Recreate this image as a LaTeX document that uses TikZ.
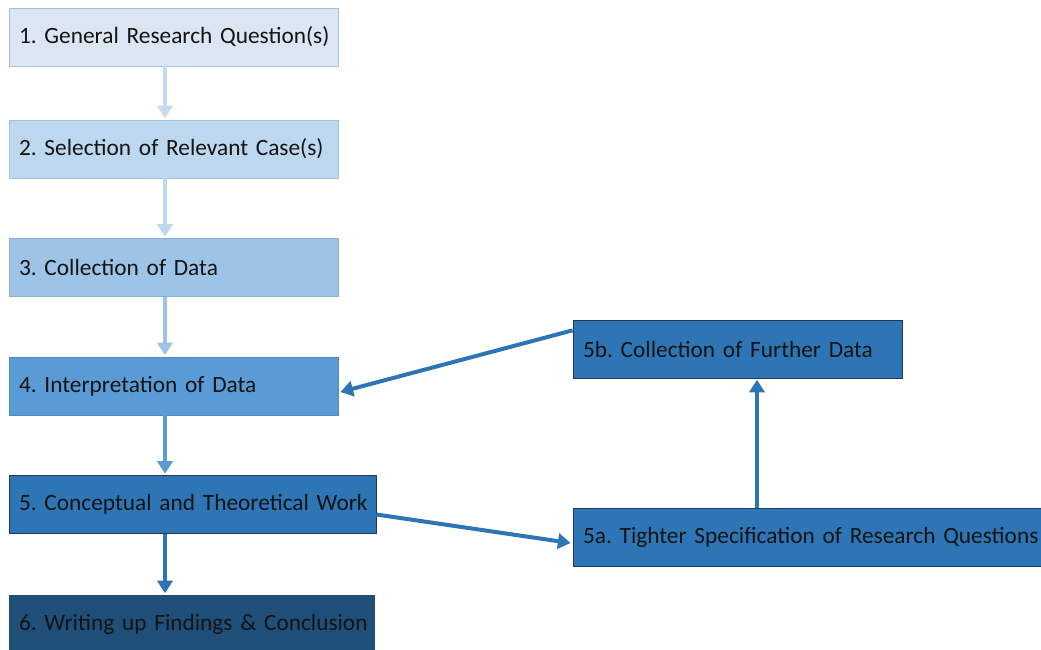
\documentclass[tikz,border=0pt]{standalone}
\usepackage{fontspec}
\setmainfont{Carlito}
\usetikzlibrary{arrows.meta}

\definecolor{fillA}{HTML}{DCE6F2}
\definecolor{fillB}{HTML}{BDD7EE}
\definecolor{fillC}{HTML}{9DC3E6}
\definecolor{fillD}{HTML}{5B9BD5}
\definecolor{fillE}{HTML}{2E75B6}
\definecolor{fillF}{HTML}{1F4E79}
\definecolor{lineA}{HTML}{A7C1E0}
\definecolor{lineE}{HTML}{22395A}
\definecolor{arrowA}{HTML}{C6DAF0}
\definecolor{ink}{HTML}{141414}

\tikzset{
  stage/.style={rectangle, draw, line width=0.6pt, inner sep=7.5pt,
    minimum height=43.5pt, text width=#1, text=ink,
    execute at begin node=\hbox\bgroup, execute at end node=\egroup,
    font=\fontsize{17.5}{20}\selectfont},
  flow/.style={line width=3pt, -{Triangle[width=11.5pt,length=9.5pt]}}
}

\begin{document}
\frenchspacing
\begin{tikzpicture}[x=0.75pt,y=-0.75pt]
      \useasboundingbox (0,0) rectangle (1041,649);
      \coordinate (spine) at (165,0);
      \coordinate (riser) at (757,0);

      \node at (173.5,37) [stage=231.75pt, fill=fillA, draw=lineA] (s1) {1. General Research Question(s)};
      \node at (173.5,149) [stage=231.75pt, fill=fillB, draw=fillC] (s2) {2. Selection of Relevant Case(s)};
      \node at (173.5,267.5) [stage=231.75pt, fill=fillC, draw=fillC!90!black] (s3) {3. Collection of Data};
      \node at (173.5,386) [stage=231.75pt, fill=fillD, draw=fillD!90!black] (s4) {4. Interpretation of Data};
      \node at (192.5,504.5) [stage=260.25pt, fill=fillE, draw=lineE] (s5) {5. Conceptual and Theoretical Work};
      \node at (191.5,624) [stage=258.75pt, fill=fillF, draw=fillF] (s6) {6. Writing up Findings \& Conclusion};

      \node at (737.5,349) [stage=231.75pt, fill=fillE, draw=lineE] (s5b) {5b. Collection of Further Data};
      \node at (813,537) [stage=345pt, fill=fillE, draw=lineE] (s5a) {5a. Tighter Specification of Research Questions};

      \draw[flow, arrowA] (s1.south -| spine) -- ([yshift=1pt]s2.north -| spine);
      \draw[flow, fillB] (s2.south -| spine) -- ([yshift=1pt]s3.north -| spine);
      \draw[flow, fillC] (s3.south -| spine) -- ([yshift=1pt]s4.north -| spine);
      \draw[flow, fillD] (s4.south -| spine) -- ([yshift=1pt]s5.north -| spine);
      \draw[flow, fillE] (s5.south -| spine) -- ([yshift=1pt]s6.north -| spine);

      \draw[flow, fillE] ([yshift=-7.5pt]s5.east) -- ([xshift=-1.5pt,yshift=-4.5pt]s5a.west);
      \draw[flow, fillE] (s5a.north -| riser) -- ([yshift=-1pt]s5b.south -| riser);
      \draw[flow, fillE] ([yshift=14pt]s5b.west) -- ([xshift=1.5pt,yshift=-4.5pt]s4.east);
\end{tikzpicture}
\end{document}
